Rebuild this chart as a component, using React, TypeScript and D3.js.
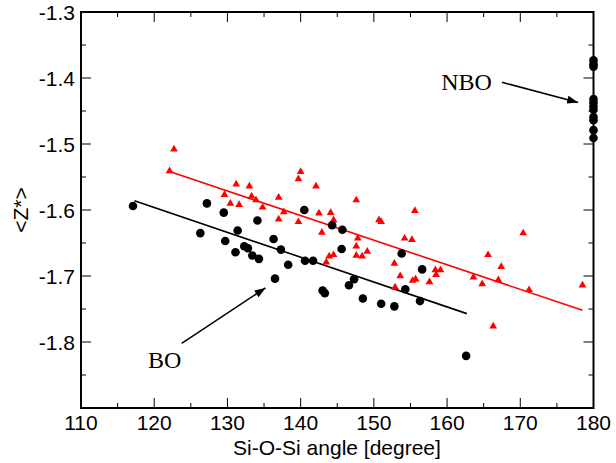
import React from "react";
import * as d3 from "d3";

const xTicks = [110, 120, 130, 140, 150, 160, 170, 180];
const yTicks = [-1.3, -1.4, -1.5, -1.6, -1.7, -1.8];

const boAngle = [117.1, 126.3, 127.2, 129.5, 129.7, 131.4, 131.1, 132.3, 132.8, 133.4, 134.3, 134.1, 136.3, 136.5, 137.3, 138.3, 140.5, 140.6, 141.7, 143.0, 143.3, 144.3, 145.7, 145.6, 146.6, 147.3, 148.5, 151.0, 152.8, 153.8, 154.3, 156.3, 156.6, 162.6];
const boZ = [-1.594, -1.635, -1.590, -1.604, -1.647, -1.631, -1.664, -1.655, -1.658, -1.669, -1.674, -1.616, -1.644, -1.704, -1.660, -1.683, -1.600, -1.677, -1.677, -1.722, -1.726, -1.623, -1.630, -1.659, -1.714, -1.705, -1.734, -1.742, -1.746, -1.666, -1.720, -1.738, -1.690, -1.821];

const nboAngle = [180, 180, 180, 180, 180, 180, 180, 180, 180, 180, 180];
const nboZ = [-1.373, -1.379, -1.383, -1.432, -1.437, -1.443, -1.448, -1.459, -1.464, -1.479, -1.491];

const triAngle = [122.7, 122.1, 129.6, 130.4, 131.2, 131.6, 133.0, 133.3, 133.9, 134.8, 137.0, 137.0, 137.7, 139.7, 139.7, 140.0, 142.1, 142.5, 142.9, 143.5, 143.9, 144.1, 144.5, 144.5, 147.6, 147.6, 147.8, 147.6, 148.4, 149.1, 150.7, 151.0, 152.8, 152.9, 153.6, 154.2, 155.2, 155.6, 155.3, 155.7, 157.6, 158.4, 158.5, 159.1, 163.6, 164.8, 165.6, 166.3, 167.0, 167.4, 170.4, 171.2, 178.5];
const triZ = [-1.508, -1.541, -1.577, -1.590, -1.561, -1.592, -1.564, -1.579, -1.585, -1.596, -1.581, -1.614, -1.603, -1.618, -1.553, -1.542, -1.564, -1.605, -1.634, -1.679, -1.670, -1.604, -1.615, -1.668, -1.585, -1.655, -1.643, -1.669, -1.670, -1.663, -1.615, -1.618, -1.681, -1.717, -1.700, -1.643, -1.645, -1.601, -1.707, -1.705, -1.709, -1.691, -1.698, -1.691, -1.702, -1.712, -1.668, -1.776, -1.706, -1.686, -1.635, -1.721, -1.714];

const boFitAngle = [117.3, 162.7];
const boFitZ = [-1.586, -1.757];
const redFitAngle = [121.9, 178.5];
const redFitZ = [-1.541, -1.752];

const annotLabels = ["NBO", "BO"];
const annotAngle = [159.2, 119.15];
const annotZ = [-1.418, -1.839];
const arrowFromAngle = [167.5, 123.75];
const arrowFromZ = [-1.4065, -1.802];
const arrowToAngle = [177.9, 135.2];
const arrowToZ = [-1.437, -1.718];

const W = 616;
const H = 463;
const L = 81;
const R = 593.5;
const T = 12;
const B = 408;

export default function App() {
  const x = d3.scaleLinear().domain([110, 180]).range([L, R]);
  const y = d3.scaleLinear().domain([-1.9, -1.3]).range([B, T]);
  const sans = "'Liberation Sans', Arial, Helvetica, sans-serif";
  const serif = "'Liberation Serif', 'Times New Roman', serif";

  const minorX = d3.range(110, 180.01, 5);
  const minorY = d3.range(-1.9, -1.2999, 0.05);
  const line = d3.line<[number, number]>().x((d) => x(d[0])).y((d) => y(d[1]));
  const tri = d3.symbol().type(d3.symbolTriangle).size(26)();

  const isMajorX = (v: number) => Math.abs(v / 10 - Math.round(v / 10)) < 1e-6;
  const isMajorY = (v: number) => Math.abs(v * 10 - Math.round(v * 10)) < 1e-6;

  return (
    <svg width={W} height={H} style={{ position: "absolute", left: 0, top: 0, background: "#fff" }}>
      <defs>
        <marker id="ah" markerUnits="userSpaceOnUse" markerWidth={11} markerHeight={8} refX={11} refY={4} orient="auto">
          <path d="M0,0 L11,4 L0,8 Z" fill="#000" />
        </marker>
      </defs>
      <rect x={0} y={0} width={W} height={H} fill="#fff" />
      {/* ticks */}
      {minorX.map((v, i) => {
        const len = isMajorX(v) ? 10 : 5;
        return (
          <g key={"tx" + i}>
            <line x1={x(v)} x2={x(v)} y1={B} y2={B - len} stroke="#000" strokeWidth={1} />
            <line x1={x(v)} x2={x(v)} y1={T} y2={T + len} stroke="#000" strokeWidth={1} />
          </g>
        );
      })}
      {minorY.map((v, i) => {
        const len = isMajorY(v) ? 10 : 5;
        return (
          <g key={"ty" + i}>
            <line x1={L} x2={L + len} y1={y(v)} y2={y(v)} stroke="#000" strokeWidth={1} />
            <line x1={R} x2={R - len} y1={y(v)} y2={y(v)} stroke="#000" strokeWidth={1} />
          </g>
        );
      })}
      <rect x={L} y={T} width={R - L} height={B - T} fill="none" stroke="#000" strokeWidth={2} />
      {xTicks.map((v) => (
        <text key={"xl" + v} x={x(v)} y={430} textAnchor="middle" fontFamily={sans} fontSize={21} fill="#000">
          {v}
        </text>
      ))}
      {yTicks.map((v) => (
        <text key={"yl" + v} x={75} y={y(v)} dy="0.36em" textAnchor="end" fontFamily={sans} fontSize={21} fill="#000">
          {v.toFixed(1)}
        </text>
      ))}
      <text x={337} y={455} textAnchor="middle" fontFamily={sans} fontSize={21} fill="#000">
        Si-O-Si angle [degree]
      </text>
      <text transform={`translate(28,${y(-1.6)}) rotate(-90)`} textAnchor="middle" fontFamily={sans} fontSize={21} fill="#000">
        {"<Z*>"}
      </text>
      {/* fit lines */}
      <path d={line(boFitAngle.map((a, i) => [a, boFitZ[i]]) as [number, number][]) || ""} fill="none" stroke="#000" strokeWidth={1.6} />
      <path d={line(redFitAngle.map((a, i) => [a, redFitZ[i]]) as [number, number][]) || ""} fill="none" stroke="#ff0000" strokeWidth={1.6} />
      {/* triangles */}
      {triAngle.map((a, i) => (
        <path key={"t" + i} d={tri || ""} transform={`translate(${x(a)},${y(triZ[i])})`} fill="#ff0000" />
      ))}
      {/* circles */}
      {boAngle.map((a, i) => (
        <circle key={"b" + i} cx={x(a)} cy={y(boZ[i])} r={4.3} fill="#000" />
      ))}
      {nboAngle.map((a, i) => (
        <circle key={"n" + i} cx={x(a)} cy={y(nboZ[i])} r={4.3} fill="#000" />
      ))}
      {/* annotations */}
      {annotLabels.map((s, i) => (
        <g key={"a" + i}>
          <text x={x(annotAngle[i])} y={y(annotZ[i])} fontFamily={serif} fontSize={24} fill="#000">
            {s}
          </text>
          <line
            x1={x(arrowFromAngle[i])}
            y1={y(arrowFromZ[i])}
            x2={x(arrowToAngle[i])}
            y2={y(arrowToZ[i])}
            stroke="#000"
            strokeWidth={1.5}
            markerEnd="url(#ah)"
          />
        </g>
      ))}
    </svg>
  );
}
